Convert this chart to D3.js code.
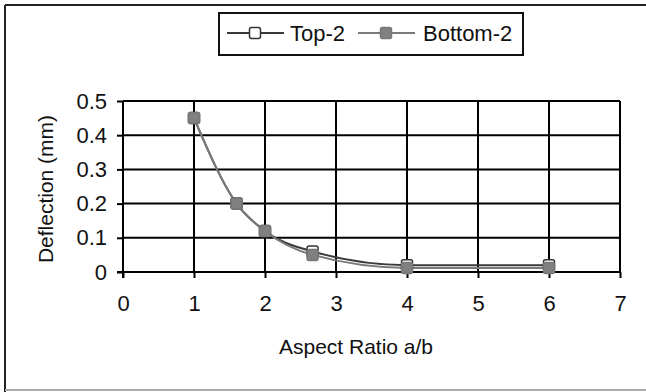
<!DOCTYPE html>
<html>
<head>
<meta charset="utf-8">
<script src="https://cdn.jsdelivr.net/npm/d3@7"></script>
<style>
  body { margin: 0; background: #fff; }
  text { font-family: "Liberation Sans", Arial, sans-serif; fill: #111; }
</style>
</head>
<body>
<div id="chart"></div>
<script>
// data
const aspectRatio = [1, 1.6, 2, 2.67, 4, 6];
const top2 = [0.45, 0.2, 0.12, 0.06, 0.02, 0.02];
const bottom2 = [0.45, 0.2, 0.12, 0.05, 0.012, 0.012];
const xTicks = [0, 1, 2, 3, 4, 5, 6, 7];
const yTicks = [0, 0.1, 0.2, 0.3, 0.4, 0.5];

const width = 646, height = 392;
const margin = {top: 101, right: 26, bottom: 120, left: 123};

const svg = d3.select('#chart').append('svg')
    .attr('width', width)
    .attr('height', height);

// outer frame
svg.append('line').attr('x1', 5).attr('x2', width).attr('y1', 5).attr('y2', 5)
    .attr('stroke', '#222').attr('stroke-width', 2);
svg.append('line').attr('x1', 5).attr('x2', 5).attr('y1', 5).attr('y2', height)
    .attr('stroke', '#222').attr('stroke-width', 2);
svg.append('line').attr('x1', 5).attr('x2', width).attr('y1', 390).attr('y2', 390)
    .attr('stroke', '#aaa').attr('stroke-width', 2);

const innerW = width - margin.left - margin.right;
const innerH = height - margin.top - margin.bottom;

const x = d3.scaleLinear().domain([0, 7]).range([0, innerW]);
const y = d3.scaleLinear().domain([0, 0.5]).range([innerH, 0]);

const chart = svg.append('g')
    .attr('transform', `translate(${margin.left},${margin.top})`);

// gridlines
chart.selectAll('.hgrid')
    .data(yTicks.slice(1))
    .join('line')
    .attr('x1', 0).attr('x2', innerW)
    .attr('y1', d => y(d)).attr('y2', d => y(d))
    .attr('stroke', '#000').attr('stroke-width', 2);

chart.selectAll('.vgrid')
    .data(xTicks.slice(1))
    .join('line')
    .attr('x1', d => x(d)).attr('x2', d => x(d))
    .attr('y1', 0).attr('y2', innerH)
    .attr('stroke', '#000').attr('stroke-width', 2);

// axes
const xAxis = d3.axisBottom(x).tickValues(xTicks).tickFormat(d3.format('d'))
    .tickSize(6).tickPadding(17);
const yAxis = d3.axisLeft(y).tickValues(yTicks).tickFormat(d => d === 0 ? '0' : d3.format('.1f')(d))
    .tickSize(6).tickPadding(10);

const xAxisG = chart.append('g')
    .attr('transform', `translate(0,${innerH})`)
    .call(xAxis);
const yAxisG = chart.append('g').call(yAxis);

[xAxisG, yAxisG].forEach(g => {
  g.select('.domain').attr('stroke', '#000').attr('stroke-width', 2);
  g.selectAll('.tick line').attr('stroke', '#000').attr('stroke-width', 2);
  g.selectAll('.tick text').style('font-size', '22px').attr('fill', '#111');
});
yAxisG.select('.domain').attr('d', `M0,0V${innerH + 6}`);
xAxisG.select('.domain').attr('d', `M-6,0H${innerW}`);

// axis labels
chart.append('text')
    .attr('x', 356 - margin.left)
    .attr('y', 354 - margin.top)
    .attr('text-anchor', 'middle')
    .style('font-size', '21px')
    .text('Aspect Ratio a/b');

chart.append('text')
    .attr('transform', 'rotate(-90)')
    .attr('x', -(189 - margin.top))
    .attr('y', 53 - margin.left)
    .attr('text-anchor', 'middle')
    .style('font-size', '21px')
    .text('Deflection (mm)');

// lines
const series = [
  {name: 'Top-2', values: top2, stroke: '#3a3a3a', fill: '#fff', mStroke: '#333'},
  {name: 'Bottom-2', values: bottom2, stroke: '#7a7a7a', fill: '#808080', mStroke: '#777'}
];

const line = d3.line()
    .x((d, i) => x(aspectRatio[i]))
    .y(d => y(d))
    .curve(d3.curveMonotoneX);

series.forEach(s => {
  chart.append('path')
      .datum(s.values)
      .attr('fill', 'none')
      .attr('stroke', s.stroke)
      .attr('stroke-width', 2)
      .attr('d', line);
});

const ms = 11;
series.forEach(s => {
  chart.selectAll(null)
      .data(s.values)
      .join('rect')
      .attr('x', (d, i) => x(aspectRatio[i]) - ms / 2)
      .attr('y', d => y(d) - ms / 2)
      .attr('width', ms).attr('height', ms)
      .attr('rx', 2)
      .attr('fill', s.fill)
      .attr('stroke', s.mStroke)
      .attr('stroke-width', 1.5);
});

// legend
const legend = svg.append('g').attr('transform', 'translate(219,13)');
legend.append('rect')
    .attr('width', 304).attr('height', 42)
    .attr('fill', '#fff').attr('stroke', '#111').attr('stroke-width', 2);

const legendX = [8, 139];
const legendTextX = [71, 204];
series.forEach((s, i) => {
  const g = legend.append('g').attr('transform', `translate(${legendX[i]},20)`);
  g.append('line').attr('x1', 0).attr('x2', 57).attr('y1', 0).attr('y2', 0)
      .attr('stroke', s.stroke).attr('stroke-width', 2);
  g.append('rect')
      .attr('x', 28 - ms / 2).attr('y', -ms / 2)
      .attr('width', ms).attr('height', ms).attr('rx', 2)
      .attr('fill', s.fill).attr('stroke', s.mStroke).attr('stroke-width', 1.5);
  legend.append('text')
      .attr('x', legendTextX[i])
      .attr('y', 28)
      .style('font-size', '22px')
      .text(s.name);
});
</script>
</body>
</html>
